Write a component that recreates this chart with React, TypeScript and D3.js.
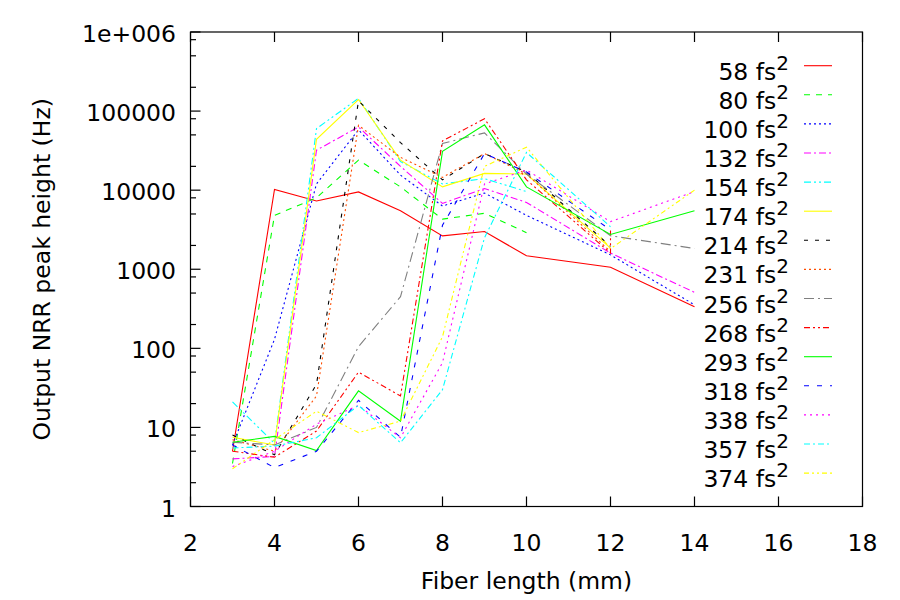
import { useEffect, useRef } from 'react';
import { select, scaleLinear, scaleLog, line } from 'd3';

// Fiber lengths (mm) at which every run was measured
const fiberLength = [3, 4, 5, 6, 7, 8, 9, 10, 12, 14];
// run 268 has two readings at 12 mm
const fiberLength268 = [3, 4, 5, 6, 7, 8, 9, 10, 12, 12];

// Output NRR peak height (Hz), null = not measured
const peak58 = [5, 10200, 7300, 9500, 5500, 2640, 3000, 1480, 1060, 335];
const peak80 = [3.5, 4800, 8000, 24000, 11000, 4300, 5100, 2900, null, null];
const peak100 = [6, 130, 12000, 58000, 15500, 6300, 9200, 4800, 1520, 355];
const peak132 = [4, 4.3, 32000, 63000, 20000, 6800, 10500, 7000, 1600, 510];
const peak154 = [21, 6.3, 60000, 145000, 23000, 12000, 14000, 9600, null, null];
const peak174 = [7.5, 6, 44000, 140000, 24000, 11000, 16300, 16000, 1850, null];
const peak214 = [8, 4.5, 35, 135000, 40000, 13500, 29000, 17000, 1950, null];
const peak231 = [7, 5, 25, 66000, 26000, 14500, 29000, 16000, 1670, null];
const peak256 = [6.5, 6, 10, 105, 450, 39000, 53000, 16000, 2650, 1830];
const peak268 = [5, 4.2, 9, 50, 25, 42000, 80000, 13500, 1600, 3100];
const peak293 = [6.5, 7.7, 5.1, 29, 12, 31000, 67000, 11000, 2750, 5500];
const peak318 = [6, 3.1, 5, 22, 7.5, 3600, 29000, 17000, 3150, null];
const peak338 = [3.2, 5, 11, 19, 7.4, 66, 12000, 18000, 4000, 9600];
const peak357 = [5.5, 5.8, 7.4, 19, 6.4, 30, 2500, 30000, 3450, null];
const peak374 = [3, 7, 16, 8.6, 12, 140, 20000, 35000, 1820, 10000];

const xTicks = [2, 4, 6, 8, 10, 12, 14, 16, 18];
const yTicks = [1, 10, 100, 1000, 10000, 100000, 1000000];
const yTickLabels = ['1', '10', '100', '1000', '10000', '100000', '1e+006'];

interface Series {
  label: string;
  lengths: number[];
  values: (number | null)[];
  color: string;
  dash: string;
}

const series: Series[] = [
  { label: '58', lengths: fiberLength, values: peak58, color: '#ff0000', dash: '' },
  { label: '80', lengths: fiberLength, values: peak80, color: '#00ff00', dash: '6,6' },
  { label: '100', lengths: fiberLength, values: peak100, color: '#0000ff', dash: '2,3' },
  { label: '132', lengths: fiberLength, values: peak132, color: '#ff00ff', dash: '7,3,2,3' },
  { label: '154', lengths: fiberLength, values: peak154, color: '#00ffff', dash: '7,3,2,3,2,3' },
  { label: '174', lengths: fiberLength, values: peak174, color: '#ffff00', dash: '' },
  { label: '214', lengths: fiberLength, values: peak214, color: '#000000', dash: '4,7' },
  { label: '231', lengths: fiberLength, values: peak231, color: '#ff4d00', dash: '2,3' },
  { label: '256', lengths: fiberLength, values: peak256, color: '#808080', dash: '10,4,2,4' },
  { label: '268', lengths: fiberLength268, values: peak268, color: '#ff0000', dash: '6,3,2,3,2,3' },
  { label: '293', lengths: fiberLength, values: peak293, color: '#00ff00', dash: '' },
  { label: '318', lengths: fiberLength, values: peak318, color: '#0000ff', dash: '5,8' },
  { label: '338', lengths: fiberLength, values: peak338, color: '#ff00ff', dash: '2,4' },
  { label: '357', lengths: fiberLength, values: peak357, color: '#00ffff', dash: '6,3,2,3' },
  { label: '374', lengths: fiberLength, values: peak374, color: '#ffff00', dash: '5,3,2,3,2,3' },
];

const W = 900;
const H = 600;
const plot = { left: 190.5, right: 862.5, top: 32, bottom: 506.5 };
const FONT = '"DejaVu Sans", Verdana, sans-serif';
const FS = 23.5;

export default function App() {
  const svgRef = useRef<SVGSVGElement>(null);

  useEffect(() => {
    if (!svgRef.current) return;
    const svg = select(svgRef.current);
    svg.selectAll('*').remove();

    const x = scaleLinear().domain([2, 18]).range([plot.left, plot.right]);
    const y = scaleLog().domain([1, 1e6]).range([plot.bottom, plot.top]);

    svg.append('rect').attr('width', W).attr('height', H).attr('fill', '#ffffff');

    svg.append('defs').append('clipPath').attr('id', 'plot-clip')
      .append('rect')
      .attr('x', plot.left).attr('y', plot.top)
      .attr('width', plot.right - plot.left).attr('height', plot.bottom - plot.top);

    const axes = svg.append('g').attr('stroke', '#000').attr('stroke-width', 1.2);

    // x ticks, bottom and mirrored on top
    xTicks.forEach((t) => {
      axes.append('line').attr('x1', x(t)).attr('x2', x(t)).attr('y1', plot.bottom).attr('y2', plot.bottom - 10);
      axes.append('line').attr('x1', x(t)).attr('x2', x(t)).attr('y1', plot.top).attr('y2', plot.top + 10);
    });

    // y ticks, left only
    yTicks.forEach((t) => {
      axes.append('line').attr('x1', plot.left).attr('x2', plot.left + 10).attr('y1', y(t)).attr('y2', y(t));
    });
    const minor: number[] = [];
    for (let k = 0; k < 6; k++) [2, 5, 8].forEach((m) => minor.push(m * 10 ** k));
    minor.forEach((t) => {
      axes.append('line').attr('x1', plot.left).attr('x2', plot.left + 5.5).attr('y1', y(t)).attr('y2', y(t));
    });

    // tick labels
    svg.append('g').selectAll('text').data(xTicks).enter().append('text')
      .attr('x', (d) => x(d)).attr('y', 551)
      .attr('text-anchor', 'middle')
      .attr('font-family', FONT).attr('font-size', FS)
      .text((d) => String(d));

    svg.append('g').selectAll('text').data(yTicks).enter().append('text')
      .attr('x', 176).attr('y', (d) => y(d) + 10)
      .attr('text-anchor', 'end')
      .attr('font-family', FONT).attr('font-size', FS)
      .text((_, i) => yTickLabels[i]);

    // axis titles
    svg.append('text')
      .attr('x', (plot.left + plot.right) / 2).attr('y', 589)
      .attr('text-anchor', 'middle')
      .attr('font-family', FONT).attr('font-size', FS)
      .text('Fiber length (mm)');
    svg.append('text')
      .attr('transform', `translate(50,${(plot.top + plot.bottom) / 2}) rotate(-90)`)
      .attr('text-anchor', 'middle')
      .attr('font-family', FONT).attr('font-size', FS)
      .text('Output NRR peak height (Hz)');

    // data lines
    const lines = svg.append('g').attr('clip-path', 'url(#plot-clip)');
    series.forEach((s) => {
      const pts = s.lengths.map((l, i) => ({ l, v: s.values[i] }));
      const path = line<{ l: number; v: number | null }>()
        .defined((d) => d.v != null)
        .x((d) => x(d.l))
        .y((d) => y(d.v as number));
      lines.append('path')
        .attr('d', path(pts))
        .attr('fill', 'none')
        .attr('stroke', s.color)
        .attr('stroke-width', 1.1)
        .attr('stroke-dasharray', s.dash || null);
    });

    // legend
    const legend = svg.append('g');
    series.forEach((s, i) => {
      const rowY = 65.7 + i * 29.1;
      const t = legend.append('text')
        .attr('x', 789).attr('y', rowY + 14)
        .attr('text-anchor', 'end')
        .attr('font-family', FONT).attr('font-size', FS);
      t.append('tspan').text(`${s.label} fs`);
      t.append('tspan').attr('dy', -10).attr('font-size', 20).text('2');
      legend.append('line')
        .attr('x1', 804).attr('x2', 832).attr('y1', rowY).attr('y2', rowY)
        .attr('stroke', s.color).attr('stroke-width', 1.1)
        .attr('stroke-dasharray', s.dash || null);
    });

    // border on top
    svg.append('rect')
      .attr('x', plot.left).attr('y', plot.top)
      .attr('width', plot.right - plot.left).attr('height', plot.bottom - plot.top)
      .attr('fill', 'none').attr('stroke', '#000').attr('stroke-width', 1.2);
  }, []);

  return (
    <div style={{ position: 'absolute', left: 0, top: 0 }}>
      <svg ref={svgRef} width={W} height={H} />
    </div>
  );
}
